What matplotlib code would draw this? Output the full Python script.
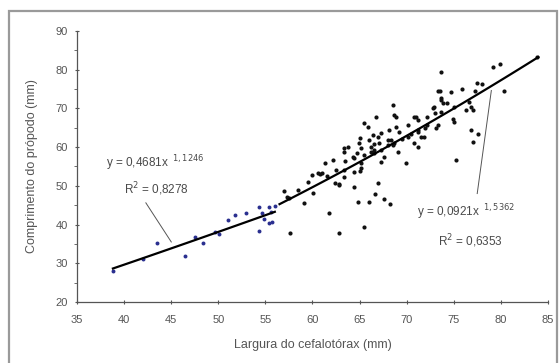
import numpy as np
import matplotlib.pyplot as plt
from matplotlib.patches import Rectangle

plt.rcParams['font.family'] = ['Liberation Sans', 'DejaVu Sans']

# small crabs (blue points)
x_small = [38.8, 42.0, 43.5, 46.5, 47.5, 48.4, 49.6, 50.1, 51.0, 51.8, 52.9,
           54.3, 54.3, 55.4, 56.0, 55.4, 55.7, 54.6, 55.6, 54.8]
y_small = [28.0, 31.0, 35.2, 31.9, 36.8, 35.2, 38.0, 37.6, 41.2, 42.5, 43.0,
           38.3, 44.5, 44.6, 44.8, 40.4, 40.7, 43.0, 43.2, 41.5]

# large crabs (black points)
x_large = [73.7, 79.2, 79.9, 83.8, 73.3, 73.5, 74.7, 75.9, 77.3, 77.5, 78.0, 80.3,
           73.6, 73.9, 72.9, 74.3, 75.0, 76.6, 76.8, 77.0, 72.2, 73.0, 74.9, 75.0,
           68.6, 68.7, 68.9, 66.8, 71.0, 71.2, 70.2, 65.5, 65.9, 66.4, 67.0, 67.3,
           68.1, 68.0, 68.9, 69.2, 70.1, 71.2, 71.5, 72.0, 73.1, 73.3, 70.8, 71.2,
           71.8, 76.8, 77.6, 77.1, 69.9, 75.2, 63.4, 63.8, 64.9, 64.3, 65.2, 66.5,
           67.3, 66.2, 61.3, 62.2, 60.6, 61.0, 63.4, 65.2, 64.7, 65.0, 67.6, 69.1,
           72.2, 73.6, 64.4, 66.2, 67.1, 68.7, 65.1, 62.4, 62.8, 63.4, 64.4, 64.4,
           64.8, 66.0, 66.6, 67.0, 67.6, 68.2, 65.5, 62.8, 61.8, 60.1, 59.1, 57.6,
           57.0, 57.3, 57.5, 59.9, 60.8, 62.8, 72.8, 73.6, 76.3, 70.8, 68.3, 63.3,
           65.2, 66.0, 66.5, 67.3, 68.6, 71.2, 58.5, 59.5, 61.5, 62.5, 63.5, 65.5,
           66.5, 68.0, 69.5, 70.5]
y_large = [79.4, 80.7, 81.5, 83.3, 74.5, 74.5, 74.3, 75.0, 74.5, 76.6, 76.3, 74.5,
           72.2, 71.4, 70.4, 71.4, 70.4, 71.7, 70.4, 69.6, 67.8, 68.8, 67.3, 66.5,
           70.9, 68.3, 67.8, 67.8, 67.8, 67.0, 65.7, 66.2, 65.2, 63.2, 62.6, 63.7,
           64.4, 61.9, 65.2, 63.9, 62.6, 63.9, 62.6, 65.0, 65.0, 65.7, 61.1, 60.1,
           62.6, 64.4, 63.4, 61.3, 55.9, 56.7, 59.8, 60.1, 61.1, 57.5, 54.6, 58.5,
           56.2, 60.1, 55.9, 56.7, 53.3, 53.3, 54.1, 55.9, 58.5, 62.4, 57.5, 58.8,
           65.7, 72.7, 57.2, 58.8, 61.1, 61.1, 53.9, 50.7, 50.5, 52.3, 53.6, 49.7,
           45.8, 45.8, 47.9, 50.7, 46.6, 45.3, 39.4, 37.8, 43.0, 48.2, 45.6, 37.8,
           48.7, 47.1, 46.9, 52.8, 53.1, 50.2, 70.1, 69.1, 69.6, 67.8, 61.9, 58.8,
           59.8, 61.9, 59.3, 59.3, 60.6, 64.4, 49.0, 51.0, 52.5, 54.0, 56.5, 58.0,
           60.8, 60.5, 62.0, 63.5]

# power trend lines shown on the chart: y = a * x^b
a_small, b_small = 0.4681, 1.1246
a_large, b_large = 0.0921, 1.5362

fig = plt.figure(figsize=(5.59, 3.63), dpi=100)
ax = fig.add_axes([0.138, 0.168, 0.842, 0.747])

# outer frame
fig.patches.append(Rectangle((0.016, -0.01), 0.98, 0.98, transform=fig.transFigure,
                             fill=False, edgecolor='#9a9a9a', linewidth=1.6))

ax.scatter(x_small, y_small, s=8, color='#2a2f8f', zorder=3, linewidths=0)
ax.scatter(x_large, y_large, s=9, color='#111111', zorder=3, linewidths=0)

xs = np.linspace(38.8, 56.0, 100)
ax.plot(xs, a_small * xs ** b_small, color='black', linewidth=1.6, zorder=4)
xl = np.linspace(56.5, 84.0, 100)
ax.plot(xl, a_large * xl ** b_large, color='black', linewidth=1.6, zorder=4)

ax.set_xlim(35, 85)
ax.set_ylim(20, 90)
ax.set_xticks(range(35, 86, 5))
ax.set_yticks(range(20, 91, 10))
ax.set_yticks(range(25, 90, 10), minor=True)
ax.spines['top'].set_visible(False)
ax.spines['right'].set_visible(False)
for s in ('left', 'bottom'):
    ax.spines[s].set_color('#555555')
    ax.spines[s].set_linewidth(0.9)
ax.tick_params(axis='both', which='major', labelsize=8, labelcolor='#555555',
               color='#555555', length=3, direction='inout', pad=5)
ax.tick_params(axis='x', which='major', pad=8)
ax.tick_params(axis='y', which='minor', color='#555555', length=2, direction='out')

ax.set_xlabel('Largura do cefalotórax (mm)', fontsize=9, color='#555555', labelpad=10)
ax.set_ylabel('Comprimento do própodo (mm)', fontsize=9, color='#555555', labelpad=13)

# equations
eq_kw = dict(fontsize=8.5, color='#4a4a4a')
ax.text(38.1, 54.8, r'y = 0,4681x$^{\ \ 1,1246}$', **eq_kw)
ax.text(40.0, 47.9, r'R$^{2}$ = 0,8278', **eq_kw)
ax.plot([42.3, 45.0], [45.6, 35.5], color='#555555', linewidth=0.7)
ax.text(71.1, 42.0, r'y = 0,0921x$^{\ \ 1,5362}$', **eq_kw)
ax.text(73.3, 34.6, r'R$^{2}$ = 0,6353', **eq_kw)
ax.plot([79.0, 77.5], [74.6, 48.0], color='#555555', linewidth=0.7)

fig.savefig('out.png', dpi=100)
